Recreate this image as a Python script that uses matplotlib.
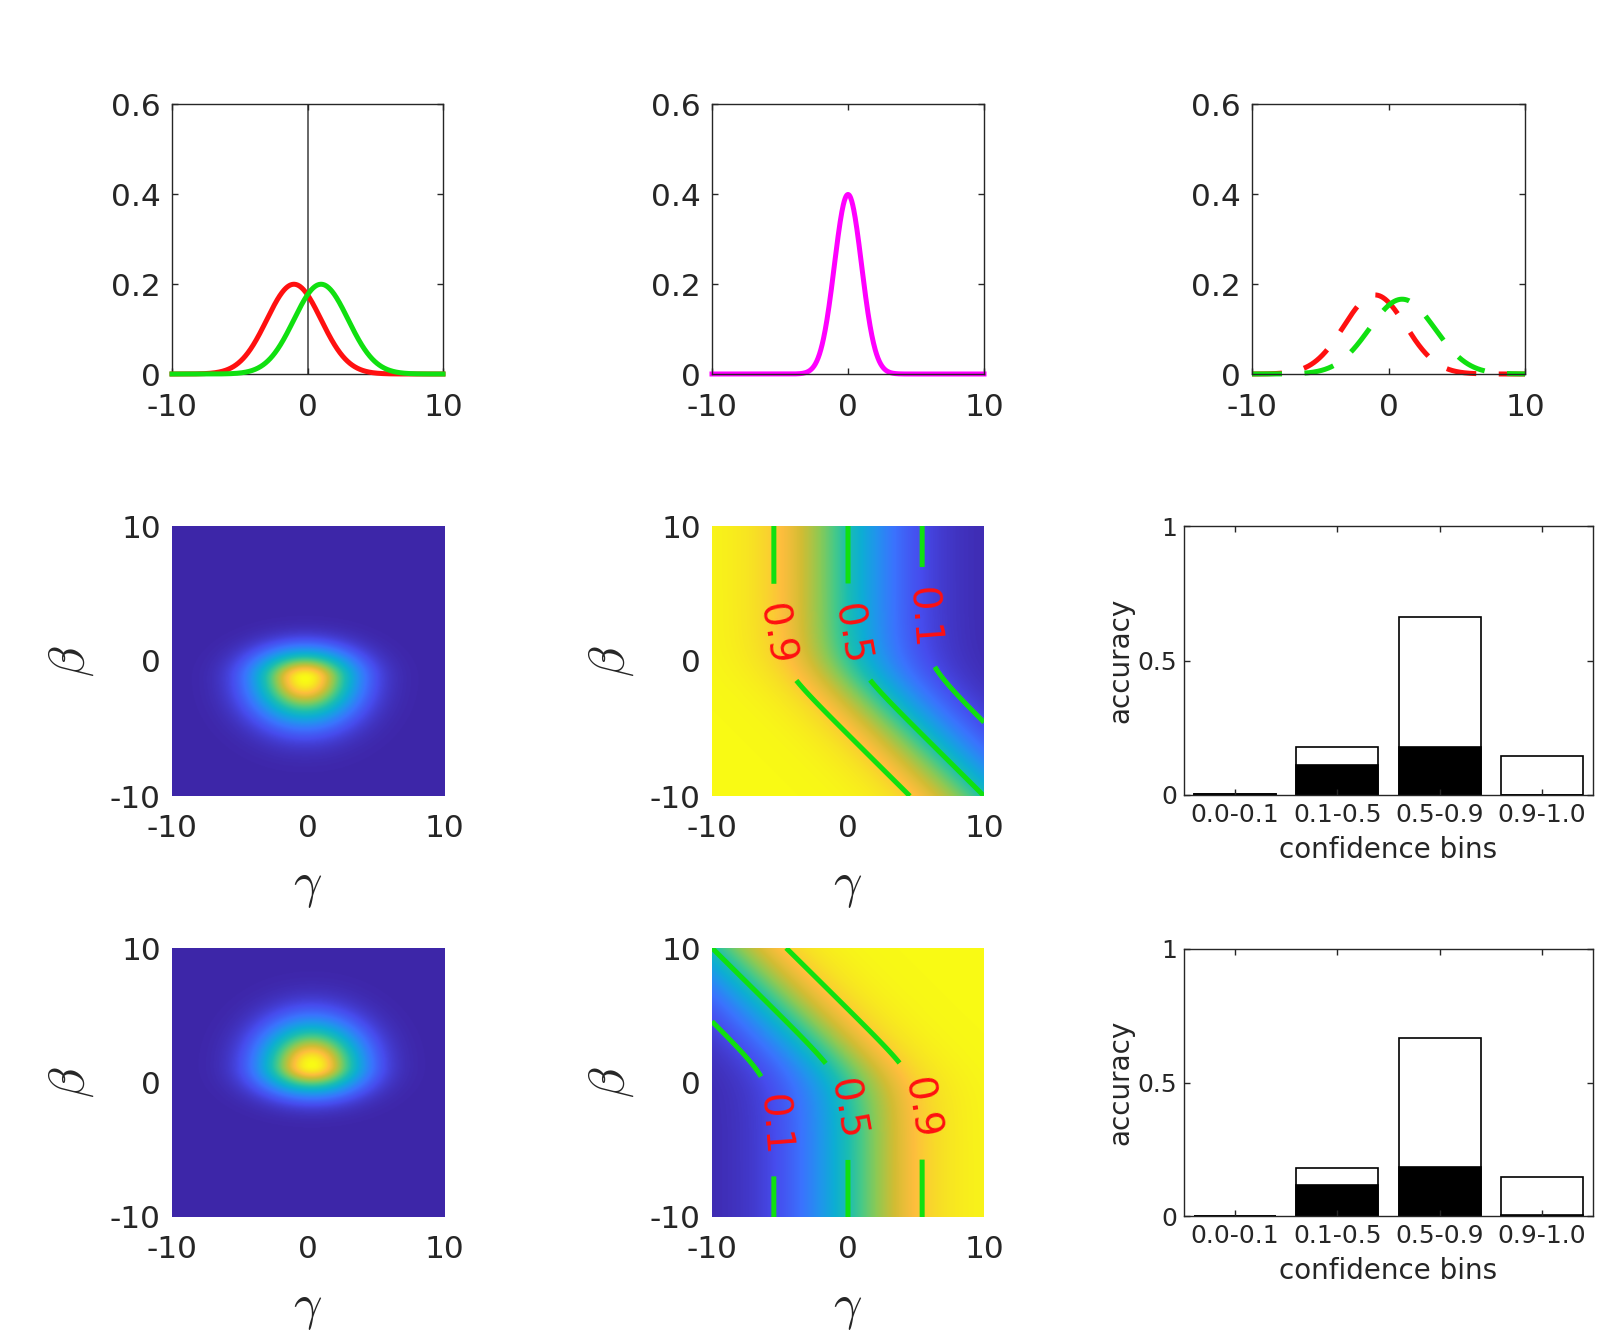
import matplotlib.pyplot as plt
import numpy as np
from matplotlib.colors import LinearSegmentedColormap

plt.rcParams['font.family'] = 'DejaVu Sans'
plt.rcParams['mathtext.fontset'] = 'cm'

W, H = 1601, 1335

# ======== данные ========
x_grid = np.linspace(-10, 10, 801)

# верхний ряд: (среднее, сигма) для кривых
prior_red = (-1.0, 2.0)
prior_green = (1.0, 2.0)
mid_magenta = (0.0, 1.0)
post_red = (-1.0, 2.27)
post_green = (1.0, 2.4)

top_yticks = [0, 0.2, 0.4, 0.6]
top_yticklabels = ['0', '0.2', '0.4', '0.6']
grid_ticks = [-10, 0, 10]

# "пятно" (левая колонка, средний ряд); нижний ряд - повёрнутое на 180
blob_center = (-0.25, -1.3)
blob_sigma_g = 2.5
blob_sigma_up = 1.4
blob_sigma_down = 2.1

# сигмоидная поверхность (средняя колонка)
surf_k = 0.403
surf_soft = 1.0
contour_levels = [0.1, 0.5, 0.9]
label_pos_mid = [(-4.9, 2.0), (0.3, 2.0), (5.8, 3.2)]
label_pos_bot = [(-5.8, -3.2), (-0.3, -2.0), (4.9, -2.0)]

# гистограммы точности
bins = ['0.0-0.1', '0.1-0.5', '0.5-0.9', '0.9-1.0']
acc_total_mid = [0.003, 0.177, 0.663, 0.144]
acc_correct_mid = [0.002, 0.111, 0.177, 0.0]
acc_total_bot = [0.0, 0.181, 0.667, 0.147]
acc_correct_bot = [0.0, 0.115, 0.182, 0.005]

# parula (примерно)
parula = LinearSegmentedColormap.from_list('parula', [
    (0.00, (0.2422, 0.1504, 0.6603)),
    (0.10, (0.2760, 0.2970, 0.9300)),
    (0.20, (0.2300, 0.4500, 0.9950)),
    (0.30, (0.1300, 0.5800, 0.9300)),
    (0.40, (0.0500, 0.6800, 0.8300)),
    (0.50, (0.1000, 0.7400, 0.7000)),
    (0.60, (0.2800, 0.7900, 0.5300)),
    (0.70, (0.5500, 0.7900, 0.3300)),
    (0.80, (0.8200, 0.7400, 0.2000)),
    (0.88, (0.9950, 0.7450, 0.2400)),
    (0.94, (0.9700, 0.8700, 0.1500)),
    (1.00, (0.9769, 0.9839, 0.0805)),
])

RED = '#ff1010'
GREEN = '#10e010'
TXT = '#262626'


def gauss(x, p):
    mu, s = p
    return np.exp(-0.5 * ((x - mu) / s) ** 2) / (s * np.sqrt(2 * np.pi))


def place(x0, y0, x1, y1):
    return fig.add_axes([x0 / W, 1 - y1 / H, (x1 - x0) / W, (y1 - y0) / H])


def style(ax, size, pad_x, pad_y):
    ax.tick_params(direction='in', top=True, right=True, length=4, width=1,
                   colors=TXT, labelsize=size)
    ax.tick_params(axis='x', pad=pad_x)
    ax.tick_params(axis='y', pad=pad_y)
    for s in ax.spines.values():
        s.set_color(TXT)
        s.set_linewidth(1.0)


fig = plt.figure(figsize=(W / 100, H / 100), dpi=100)

# ======== верхний ряд ========
top_boxes = [(172, 104, 443, 374), (712, 104, 984, 374), (1252, 104, 1525, 374)]
axs_top = [place(*b) for b in top_boxes]

a = axs_top[0]
a.axvline(0, color='#666666', lw=1.4, zorder=1)
a.plot(x_grid, gauss(x_grid, prior_red), color=RED, lw=3.6, clip_on=False, zorder=3)
a.plot(x_grid, gauss(x_grid, prior_green), color=GREEN, lw=3.6, clip_on=False, zorder=3)

a = axs_top[1]
a.plot(x_grid, gauss(x_grid, mid_magenta), color='#ff00ff', lw=3.6, clip_on=False)

a = axs_top[2]
a.plot(x_grid, gauss(x_grid, post_red), color=RED, lw=3.6, ls=(0, (6, 4.5)), clip_on=False)
a.plot(x_grid, gauss(x_grid, post_green), color=GREEN, lw=3.6, ls=(0, (6, 4.5)), clip_on=False)

for a in axs_top:
    a.set_xlim(-10, 10)
    a.set_ylim(0, 0.6)
    a.set_xticks(grid_ticks)
    a.set_xticklabels(['-10', '0', '10'])
    a.set_yticks(top_yticks)
    a.set_yticklabels(top_yticklabels)
    style(a, 22.5, 14, 8)

# ======== поля ========
g = np.linspace(-10, 10, 401)
G, B = np.meshgrid(g, g)


def blob(Gm, Bm):
    sb = np.where(Bm > blob_center[1], blob_sigma_up, blob_sigma_down)
    return np.exp(-0.5 * ((Gm - blob_center[0]) / blob_sigma_g) ** 2
                  - 0.5 * ((Bm - blob_center[1]) / sb) ** 2)


def surface(Gm, Bm):
    shift = np.log1p(np.exp(-Bm * surf_soft)) / surf_soft
    return 1 / (1 + np.exp(surf_k * (Gm - shift)))


fields_blob = [blob(G, B), blob(-G, -B)]
fields_surf = [surface(G, B), surface(-G, -B)]
label_pos = [label_pos_mid, label_pos_bot]

rows_y = [(526, 796), (948, 1217)]
for r, (y0, y1) in enumerate(rows_y):
    a1 = place(172, y0, 444, y1)
    a1.imshow(fields_blob[r], extent=[-10, 10, -10, 10], origin='lower',
              aspect='auto', cmap=parula, interpolation='bilinear')

    a2 = place(712, y0, 984, y1)
    a2.imshow(fields_surf[r], extent=[-10, 10, -10, 10], origin='lower',
              aspect='auto', cmap=parula, vmin=0, vmax=1, interpolation='bilinear')
    cs = a2.contour(G, B, fields_surf[r], levels=contour_levels, colors=GREEN,
                    linewidths=3.6)
    a2.clabel(cs, inline=True, inline_spacing=20, fontsize=28, colors=RED,
              fmt='%.1f', manual=label_pos[r])

    for a in (a1, a2):
        a.set_xlim(-10, 10)
        a.set_ylim(-10, 10)
        a.set_xticks(grid_ticks)
        a.set_xticklabels(['-10', '0', '10'])
        a.set_yticks(grid_ticks)
        a.set_yticklabels(['-10', '0', '10'])
        style(a, 22.5, 13, 8)
        a.tick_params(length=0)
        for s in a.spines.values():
            s.set_visible(False)
        a.set_xlabel(r'$\gamma$', fontsize=36, labelpad=14, color=TXT)
        a.set_ylabel(r'$\beta$', fontsize=36, labelpad=10, color=TXT)

# ======== гистограммы ========
bar_y = [(526, 795), (949, 1216)]
totals = [acc_total_mid, acc_total_bot]
corrects = [acc_correct_mid, acc_correct_bot]
xpos = np.arange(1, len(bins) + 1)
for r, (y0, y1) in enumerate(bar_y):
    a = place(1184, y0, 1593, y1)
    a.bar(xpos, totals[r], width=0.8, color='white', edgecolor='black', lw=1.2)
    a.bar(xpos, corrects[r], width=0.8, color='black', edgecolor='black', lw=1.2)
    a.set_xlim(0.5, 4.5)
    a.set_ylim(0, 1)
    a.set_xticks(xpos)
    a.set_xticklabels(bins)
    a.set_yticks([0, 0.5, 1])
    a.set_yticklabels(['0', '0.5', '1'])
    style(a, 18, 6, 5)
    a.set_xlabel('confidence bins', fontsize=20, labelpad=6, color=TXT)
    a.set_ylabel('accuracy', fontsize=20, labelpad=2, color=TXT)

fig.savefig('out.png', dpi=100)
